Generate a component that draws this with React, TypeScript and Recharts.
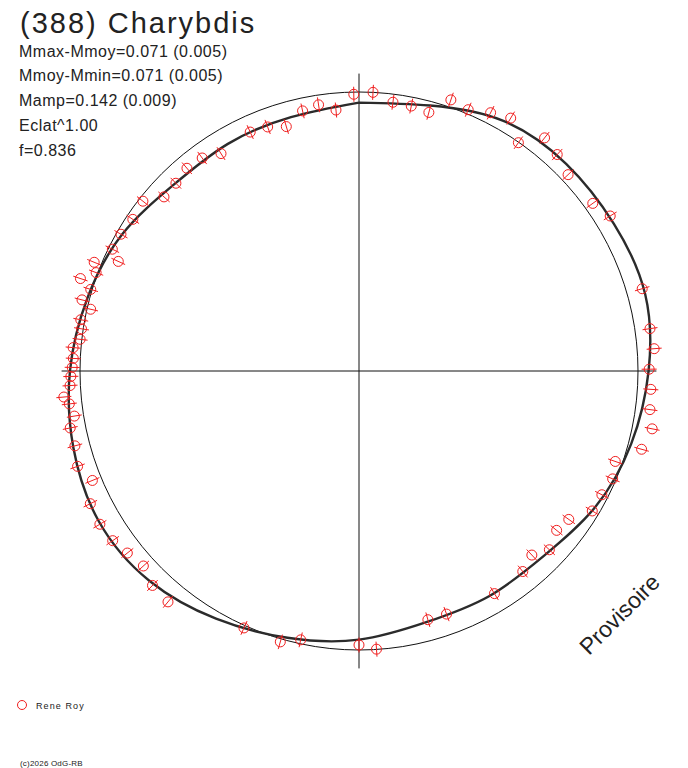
import { ComposedChart, Line, ReferenceLine, Scatter, XAxis, YAxis } from "recharts";

// rotational phase (0 at top, clockwise) and relative flux of each measurement
const phases = [
  0.008, 0.02, 0.031, 0.042, 0.052, 0.063, 0.075, 0.086, 0.097, 0.107, 0.118, 0.13, 0.151, 0.162,
  0.205, 0.227, 0.238, 0.249, 0.26, 0.271, 0.281, 0.293, 0.304, 0.314, 0.325, 0.336, 0.348, 0.358,
  0.37, 0.38, 0.391, 0.413, 0.445, 0.457, 0.49, 0.5, 0.534, 0.545, 0.567, 0.61, 0.622, 0.633,
  0.644, 0.654, 0.665, 0.677, 0.688, 0.698, 0.709, 0.719, 0.725, 0.732, 0.736, 0.742, 0.747, 0.752,
  0.757, 0.763, 0.768, 0.774, 0.779, 0.786, 0.79, 0.797, 0.801, 0.807, 0.812, 0.818, 0.823, 0.833,
  0.844, 0.856, 0.866, 0.877, 0.888, 0.899, 0.91, 0.932, 0.943, 0.954, 0.966, 0.976, 0.986, 0.997,
];
const fluxes = [
  1.0, 0.971, 0.968, 0.96, 1.026, 1.015, 1.039, 1.057, 0.998, 1.068, 1.052, 1.028, 1.031, 1.058,
  1.057, 1.054, 1.061, 1.04, 1.048, 1.052, 1.071, 1.051, 0.974, 0.988, 0.977, 0.975, 0.921, 0.91,
  0.936, 0.905, 0.928, 0.934, 0.926, 0.925, 0.999, 0.982, 0.986, 1.011, 1.009, 1.074, 1.067, 1.042,
  1.056, 1.072, 1.079, 1.074, 1.033, 1.065, 1.053, 1.055, 1.033, 1.045, 1.062, 1.037, 1.033, 1.028,
  1.025, 1.028, 1.006, 1.006, 1.014, 0.987, 1.025, 1.005, 1.052, 1.006, 1.026, 0.948, 0.986, 0.984,
  0.976, 0.985, 0.937, 0.94, 0.953, 0.948, 0.923, 0.941, 0.934, 0.914, 0.954, 0.965, 0.939, 0.992,
];
const fluxError = 0.027;

// fitted lightcurve, sampled every 1/24 of a rotation
const fitPhases = Array.from({ length: 24 }, (_, i) => i / 24);
const fitFluxes = [
  0.962, 0.985, 1.035, 1.05, 1.055, 1.062, 1.038, 1.01, 0.977, 0.937, 0.932, 0.932,
  0.963, 0.99, 1.025, 1.063, 1.077, 1.06, 1.036, 1.008, 0.98, 0.942, 0.94, 0.942,
];

const infoLines = ["Mmax-Mmoy=0.071 (0.005)", "Mmoy-Mmin=0.071 (0.005)", "Mamp=0.142 (0.009)", "Eclat^1.00", "f=0.836"];

const W = 688;
const H = 768;
const CX = 359;
const CY = 371;
const SCALE = 279; // px per unit flux
const AXIS = 1.066;

const toXY = (phase: number, r: number) => ({
  x: r * Math.sin(2 * Math.PI * phase),
  y: r * Math.cos(2 * Math.PI * phase),
});

const points = phases.map((p, i) => ({ ...toXY(p, fluxes[i]), phase: p }));
const fit = [...fitPhases, 1].map((p, i) => toXY(p, fitFluxes[i % 24]));
const circle = Array.from({ length: 121 }, (_, i) => toXY(i / 120, 1));

const RED = "#f01e1e";

function Marker(props: any) {
  const { cx, cy, payload } = props;
  if (cx == null || cy == null) return null;
  const a = 2 * Math.PI * payload.phase;
  const dx = Math.sin(a) * fluxError * SCALE;
  const dy = -Math.cos(a) * fluxError * SCALE;
  return (
    <g>
      <circle cx={cx} cy={cy} r={5} fill="none" stroke={RED} strokeWidth={1} />
      <line x1={cx - dx} y1={cy - dy} x2={cx + dx} y2={cy + dy} stroke={RED} strokeWidth={1} />
    </g>
  );
}

export default function App() {
  const font = "'Liberation Sans', Arial, sans-serif";
  return (
    <div style={{ position: "absolute", left: 0, top: 0, width: W, height: H, background: "#fff" }}>
      <ComposedChart width={W} height={H} margin={{ top: 0, right: 0, bottom: 0, left: 0 }}>
        <XAxis type="number" dataKey="x" hide allowDataOverflow domain={[-CX / SCALE, (W - CX) / SCALE]} />
        <YAxis type="number" dataKey="y" hide allowDataOverflow domain={[-(H - CY) / SCALE, CY / SCALE]} />
        <ReferenceLine segment={[{ x: -AXIS, y: 0 }, { x: AXIS, y: 0 }]} stroke="#111" strokeWidth={1} />
        <ReferenceLine segment={[{ x: 0, y: -AXIS }, { x: 0, y: AXIS }]} stroke="#111" strokeWidth={1} />
        <Line data={circle} dataKey="y" type="linear" dot={false} stroke="#111" strokeWidth={1} isAnimationActive={false} />
        <Line data={fit} dataKey="y" type="natural" dot={false} stroke="#2b2b2b" strokeWidth={2.4} isAnimationActive={false} />
        <Scatter data={points} dataKey="y" shape={<Marker />} isAnimationActive={false} />
      </ComposedChart>
      <svg width={W} height={H} style={{ position: "absolute", left: 0, top: 0, pointerEvents: "none" }} fontFamily={font}>
        <text x={20} y={33} fontSize={29} letterSpacing={2} fill="#222">(388) Charybdis</text>
        {infoLines.map((t, i) => (
          <text key={t} x={19} y={56.5 + i * 24.75} fontSize={16} letterSpacing={0.5} fill="#222">{t}</text>
        ))}
        <text x={589} y={656} fontSize={23} fill="#222" transform="rotate(-45 589 656)">Provisoire</text>
        <circle cx={22} cy={705} r={4.5} fill="none" stroke={RED} strokeWidth={1} />
        <text x={36} y={709} fontSize={9} letterSpacing={1.1} fill="#222">Rene Roy</text>
        <text x={20} y={766} fontSize={8} letterSpacing={0.2} fill="#222">(c)2026 OdG-RB</text>
      </svg>
    </div>
  );
}
